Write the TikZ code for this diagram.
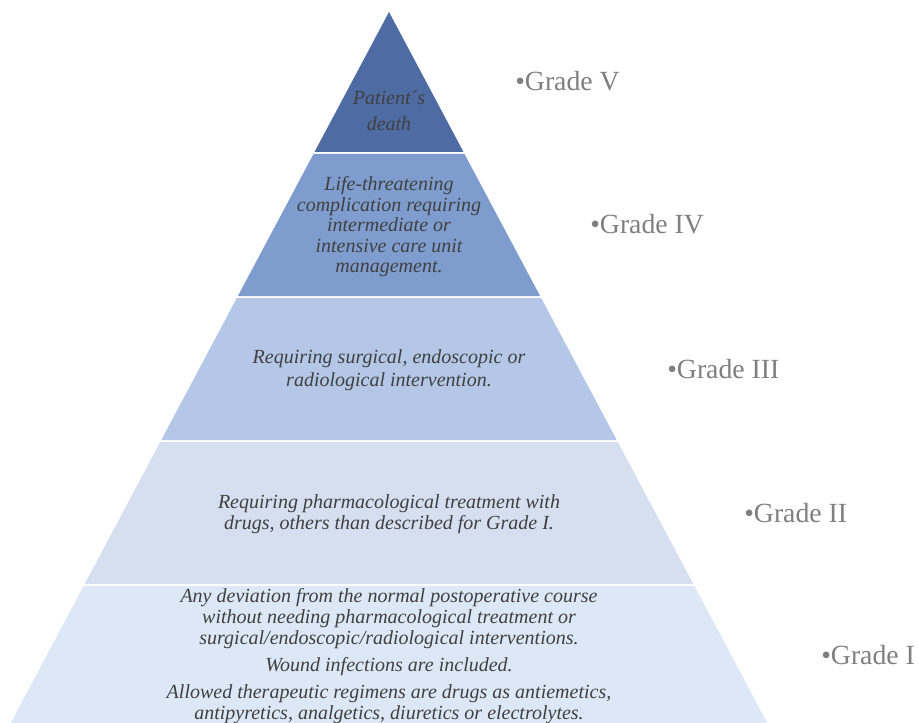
\documentclass[tikz,border=0pt]{standalone}
\usepackage{fontspec}
\setmainfont{Liberation Serif}
\definecolor{cV}{RGB}{78,108,163}
\definecolor{cIV}{RGB}{126,157,206}
\definecolor{cIII}{RGB}{180,199,231}
\definecolor{cII}{RGB}{214,223,240}
\definecolor{cI}{RGB}{220,232,245}
\definecolor{txt}{RGB}{64,64,64}
\definecolor{lbl}{RGB}{127,127,127}
\begin{document}
\begin{tikzpicture}[x=0.75pt,y=-0.75pt,
  inner/.style={align=center,text=txt,inner sep=0pt,font=\fontsize{15}{15.4}\selectfont\itshape},
  grade/.style={anchor=base west,text=lbl,inner sep=0pt,font=\fontsize{20.8}{24}\selectfont}]
\useasboundingbox (0,0) rectangle (919,723);
% layers
\fill[cV]   (389,12) -- (463.5,152) -- (314.5,152) -- cycle;
\fill[cIV]  (313.5,154) -- (464.5,154) -- (540.1,296) -- (237.9,296) -- cycle;
\fill[cIII] (236.8,298) -- (541.2,298) -- (616.7,440) -- (161.3,440) -- cycle;
\fill[cII]  (160.2,442) -- (617.8,442) -- (693.3,584) -- (84.7,584) -- cycle;
\fill[cI]   (83.6,586) -- (694.4,586) -- (767.3,723) -- (10.7,723) -- cycle;
% texts
\node[inner,font=\fontsize{15}{19.5}\selectfont\itshape] (tV) at (389,111) {Patient\textasciiacute s\\death};
\node[inner] (tIV) at (389,227) {Life-threatening\\complication requiring\\intermediate or\\intensive care unit\\management.};
\node[inner,font=\fontsize{15}{17}\selectfont\itshape] (tIII) at (389,370) {Requiring surgical, endoscopic or\\radiological intervention.};
\node[inner,font=\fontsize{15}{16}\selectfont\itshape] (tII) at (389,514) {Requiring pharmacological treatment with\\drugs, others than described for Grade I.};
\node[inner,font=\fontsize{15}{16}\selectfont\itshape] (tI) at (389,656) {Any deviation from the normal postoperative course\\without needing pharmacological treatment or\\surgical/endoscopic/radiological interventions.\\[4pt]Wound infections are included.\\[4pt]Allowed therapeutic regimens are drugs as antiemetics,\\antipyretics, analgetics, diuretics or electrolytes.};
% grade labels
\node[grade] (gV)   at (515,91)  {•Grade V};
\node[grade] (gIV)  at (590,234) {•Grade IV};
\node[grade] (gIII) at (667,378) {•Grade III};
\node[grade] (gII)  at (744,522) {•Grade II};
\node[grade] (gI)   at (821,664) {•Grade I};
\end{tikzpicture}
\end{document}
